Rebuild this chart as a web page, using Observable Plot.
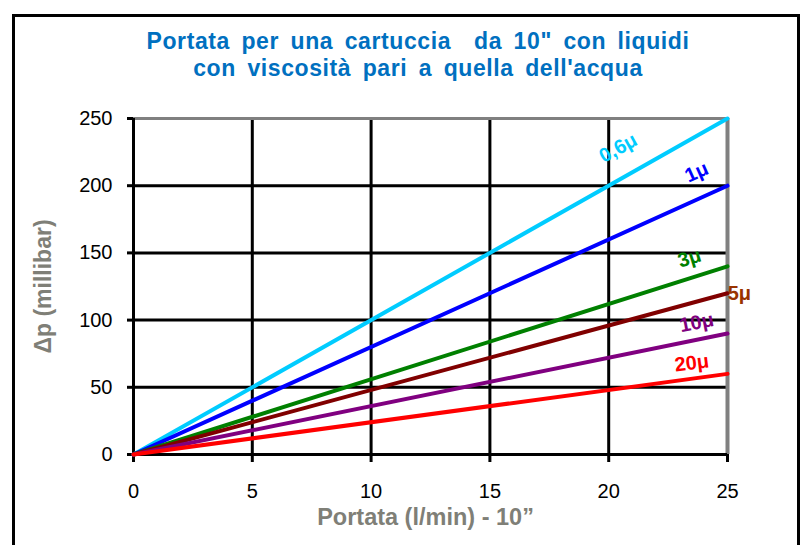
<!DOCTYPE html>
<html>
<head>
<meta charset="utf-8">
<script src="https://cdn.jsdelivr.net/npm/d3@7"></script>
<script src="https://cdn.jsdelivr.net/npm/@observablehq/plot@0.6"></script>
<style>
  body { margin: 0; background: #fff; }
  #wrap { position: relative; width: 809px; height: 545px; overflow: hidden; background: #fff; font-family: "Liberation Sans", Arial, sans-serif; }
  #frame { position: absolute; left: 12px; top: 14px; width: 788px; height: 560px; border: 3px solid #000; box-sizing: border-box; }
  #title { position: absolute; left: 0; top: 28px; width: 836px; text-align: center; color: #0070C0; font-weight: bold; font-size: 23px; line-height: 27px; letter-spacing: 0.6px; word-spacing: 4.5px; }
  #chart { position: absolute; left: 0; top: 0; }
</style>
</head>
<body>
<div id="wrap">
  <div id="frame"></div>
  <div id="title">Portata per una cartuccia&nbsp; da 10" con liquidi<br>con viscosità pari a quella dell'acqua</div>
  <div id="chart"></div>
</div>
<script>
const filters = ["0,6μ", "1μ", "3μ", "5μ", "10μ", "20μ"];
const colors = ["#00CCFF", "#0000FF", "#008000", "#800000", "#800080", "#FF0000"];
const labelColors = ["#00CCFF", "#0000FF", "#008000", "#993300", "#800080", "#FF0000"];
const flowStart = [0, 0, 0, 0, 0, 0];
const flowEnd = [25, 25, 25, 25, 25, 25];
const dpStart = [0, 0, 0, 0, 0, 0];
const dpEnd = [250, 200, 140, 120, 90, 60];
const labelX = [20.4, 23.7, 23.4, 25.5, 23.7, 23.5];
const labelY = [228, 210, 146, 120, 98, 68];
const labelAngle = [-29, -24, -17, 0, -11, -7];
const xTicks = [0, 5, 10, 15, 20, 25];
const yTicks = [0, 50, 100, 150, 200, 250];
const xTitle = "Portata (l/min) - 10\u201D";
const yTitle = "\u0394p (millibar)";

const rows = [];
filters.forEach((f, i) => {
  rows.push({filter: f, x: flowStart[i], y: dpStart[i]});
  rows.push({filter: f, x: flowEnd[i], y: dpEnd[i]});
});
const labels = filters.map((f, i) => ({filter: f, x: labelX[i], y: labelY[i], angle: labelAngle[i], color: labelColors[i]}));

const chart = Plot.plot({
  width: 809,
  height: 545,
  marginLeft: 133,
  marginRight: 82,
  marginTop: 118,
  marginBottom: 91,
  style: {fontFamily: "'Liberation Sans', Arial, sans-serif", fontSize: "20px", background: "transparent", overflow: "visible"},
  x: {domain: [0, 25]},
  y: {domain: [0, 250]},
  color: {domain: filters, range: colors},
  marks: [
    Plot.gridX(xTicks, {stroke: "#000", strokeWidth: 3, strokeOpacity: 1}),
    Plot.gridY(yTicks, {stroke: "#000", strokeWidth: 3, strokeOpacity: 1}),
    Plot.ruleY([250], {stroke: "#808080", strokeWidth: 3}),
    Plot.ruleX([25], {stroke: "#808080", strokeWidth: 4}),
    Plot.axisY({ticks: yTicks, tickSize: 6, tickPadding: 15, stroke: "#000", strokeWidth: 3, fill: "#000", label: null}),
    Plot.axisX({ticks: xTicks, tickSize: 8, tickPadding: 21, stroke: "#000", strokeWidth: 3, fill: "#000", label: null}),
    Plot.ruleX([0], {stroke: "#000", strokeWidth: 3}),
    Plot.ruleY([0], {stroke: "#000", strokeWidth: 3}),
    Plot.line(rows, {x: "x", y: "y", z: "filter", stroke: "filter", strokeWidth: 4}),
    Plot.text(labels, {x: "x", y: "y", text: "filter", rotate: "angle", fill: d => d.color, fontWeight: "bold", fontSize: 20}),
    Plot.text([xTitle], {frameAnchor: "bottom", textAnchor: "middle", lineAnchor: "middle", dx: -5, dy: 63, fill: "#7f7f77", fontWeight: "bold", fontSize: 23.5}),
    Plot.text([yTitle], {frameAnchor: "left", textAnchor: "middle", lineAnchor: "middle", dx: -90, rotate: -90, fill: "#7f7f77", fontWeight: "bold", fontSize: 23})
  ]
});
document.getElementById("chart").appendChild(chart);
</script>
</body>
</html>
